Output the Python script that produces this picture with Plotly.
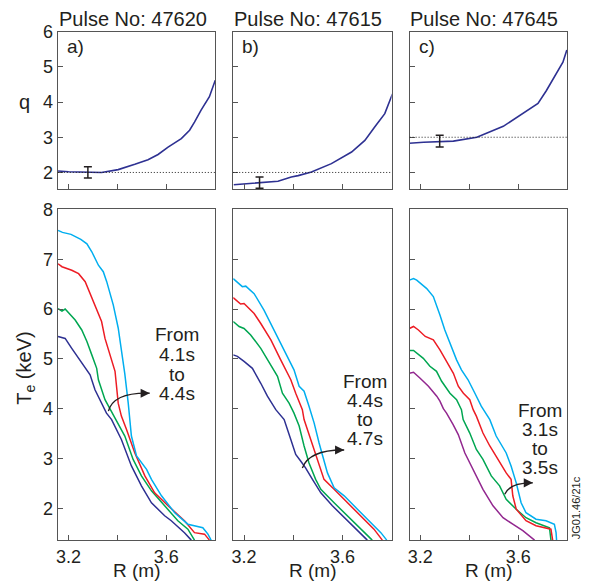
import plotly.graph_objects as go

# ---------------- data ----------------
pulses = ["47620", "47615", "47645"]
panel_tags = ["a)", "b)", "c)"]
time_from = ["4.1s", "4.4s", "3.1s"]
time_to = ["4.4s", "4.7s", "3.5s"]

# safety factor profiles q(R)
q_R = [
    [3.157, 3.20, 3.335, 3.403, 3.471, 3.525, 3.566, 3.607, 3.661, 3.695, 3.715, 3.742, 3.776, 3.80],
    [3.158, 3.27, 3.338, 3.392, 3.42, 3.474, 3.555, 3.637, 3.691, 3.731, 3.772, 3.803],
    [3.155, 3.213, 3.335, 3.431, 3.539, 3.62, 3.681, 3.715, 3.756, 3.783, 3.799],
]
q_val = [
    [2.04, 2.02, 2.00, 2.08, 2.23, 2.36, 2.51, 2.72, 2.96, 3.20, 3.43, 3.77, 4.15, 4.62],
    [1.65, 1.72, 1.75, 1.87, 1.91, 2.01, 2.25, 2.58, 2.91, 3.29, 3.67, 4.23],
    [2.83, 2.86, 2.89, 3.00, 3.31, 3.67, 3.96, 4.32, 4.80, 5.13, 5.48],
]
# error bar on q near the axis
qerr_R = [3.279, 3.263, 3.279]
qerr_val = [2.00, 1.71, 2.89]
qerr_size = [0.16, 0.16, 0.17]
# rational surface reference levels
q_ref = [2, 2, 3]

# electron temperature profiles Te(R), several time slices per pulse
te_colors = {
    "navy": "#2E3192",
    "purple": "#92278F",
    "green": "#00A651",
    "red": "#ED1C24",
    "cyan": "#00AEEF",
}

te_a = {
    "navy": (
        [3.157, 3.186, 3.213, 3.241, 3.268, 3.288, 3.308, 3.335, 3.355, 3.376, 3.416, 3.457, 3.498, 3.539, 3.593, 3.62, 3.674, 3.702],
        [5.45, 5.41, 5.21, 5.01, 4.81, 4.68, 4.38, 4.11, 3.91, 3.78, 3.38, 2.85, 2.45, 2.11, 1.85, 1.75, 1.51, 1.36],
    ),
    "green": (
        [3.157, 3.173, 3.186, 3.227, 3.254, 3.275, 3.295, 3.315, 3.322, 3.349, 3.39, 3.43, 3.464, 3.498, 3.539, 3.593, 3.647, 3.688, 3.715],
        [6.01, 5.96, 6.00, 5.78, 5.58, 5.35, 5.08, 4.81, 4.58, 4.18, 3.81, 3.45, 2.98, 2.65, 2.35, 2.05, 1.75, 1.58, 1.36],
    ),
    "red": (
        [3.157, 3.173, 3.213, 3.241, 3.268, 3.308, 3.335, 3.349, 3.369, 3.39, 3.403, 3.416, 3.437, 3.471, 3.512, 3.552, 3.607, 3.674, 3.715, 3.756, 3.776],
        [6.91, 6.85, 6.78, 6.71, 6.55, 6.08, 5.75, 5.41, 5.08, 4.75, 4.11, 3.85, 3.58, 3.11, 2.65, 2.31, 2.05, 1.75, 1.51, 1.48, 1.36],
    ),
    "cyan": (
        [3.157, 3.175, 3.21, 3.25, 3.275, 3.295, 3.322, 3.342, 3.356, 3.369, 3.383, 3.403, 3.416, 3.43, 3.444, 3.457, 3.478, 3.519, 3.539, 3.58, 3.634, 3.688, 3.749, 3.77, 3.783],
        [7.58, 7.54, 7.50, 7.40, 7.31, 7.15, 6.88, 6.75, 6.55, 6.31, 6.08, 5.62, 5.22, 4.70, 4.11, 3.45, 3.05, 2.78, 2.58, 2.25, 1.91, 1.68, 1.61, 1.48, 1.36],
    ),
}

te_b = {
    "navy": (
        [3.156, 3.173, 3.20, 3.234, 3.268, 3.295, 3.329, 3.363, 3.39, 3.41, 3.43, 3.45, 3.478, 3.512, 3.559, 3.613, 3.667, 3.701],
        [5.08, 5.05, 4.95, 4.81, 4.51, 4.25, 3.98, 3.78, 3.38, 3.08, 2.95, 2.81, 2.58, 2.31, 2.05, 1.78, 1.51, 1.36],
    ),
    "green": (
        [3.156, 3.18, 3.20, 3.227, 3.268, 3.295, 3.336, 3.356, 3.383, 3.403, 3.424, 3.444, 3.464, 3.491, 3.512, 3.566, 3.62, 3.674, 3.721],
        [5.75, 5.65, 5.61, 5.48, 5.21, 4.98, 4.65, 4.31, 4.11, 3.91, 3.65, 3.25, 2.91, 2.58, 2.38, 2.11, 1.85, 1.58, 1.36],
    ),
    "red": (
        [3.156, 3.173, 3.186, 3.20, 3.241, 3.268, 3.309, 3.349, 3.39, 3.41, 3.437, 3.444, 3.471, 3.491, 3.512, 3.525, 3.566, 3.62, 3.674, 3.728, 3.762],
        [6.23, 6.15, 6.10, 6.11, 5.91, 5.71, 5.38, 4.98, 4.58, 4.31, 3.98, 3.78, 3.38, 3.05, 2.78, 2.58, 2.38, 2.11, 1.85, 1.58, 1.36],
    ),
    "cyan": (
        [3.156, 3.18, 3.193, 3.207, 3.241, 3.281, 3.322, 3.363, 3.403, 3.424, 3.444, 3.464, 3.485, 3.505, 3.525, 3.539, 3.566, 3.607, 3.661, 3.715, 3.756, 3.78],
        [6.61, 6.51, 6.45, 6.46, 6.31, 5.98, 5.58, 5.18, 4.78, 4.45, 4.35, 4.05, 3.71, 3.31, 2.98, 2.71, 2.41, 2.25, 1.98, 1.71, 1.51, 1.36],
    ),
}

te_c = {
    "purple": (
        [3.155, 3.172, 3.199, 3.233, 3.267, 3.28, 3.294, 3.307, 3.334, 3.355, 3.382, 3.416, 3.456, 3.497, 3.538, 3.578, 3.619, 3.667],
        [4.71, 4.73, 4.61, 4.45, 4.25, 4.15, 4.00, 3.91, 3.68, 3.48, 3.11, 2.78, 2.38, 2.05, 1.81, 1.68, 1.55, 1.36],
    ),
    "green": (
        [3.155, 3.172, 3.212, 3.239, 3.266, 3.287, 3.321, 3.348, 3.368, 3.375, 3.402, 3.429, 3.456, 3.49, 3.524, 3.551, 3.592, 3.632, 3.673, 3.728, 3.734],
        [5.17, 5.17, 5.01, 4.85, 4.75, 4.55, 4.31, 4.18, 3.98, 3.78, 3.51, 3.18, 2.98, 2.65, 2.45, 2.18, 1.98, 1.81, 1.71, 1.61, 1.36],
    ),
    "red": (
        [3.155, 3.172, 3.192, 3.22, 3.253, 3.28, 3.307, 3.335, 3.355, 3.376, 3.402, 3.416, 3.429, 3.456, 3.484, 3.524, 3.551, 3.571, 3.578, 3.592, 3.632, 3.673, 3.734, 3.741],
        [5.61, 5.65, 5.58, 5.45, 5.38, 5.18, 4.95, 4.71, 4.45, 4.31, 4.18, 3.98, 3.85, 3.51, 3.25, 2.91, 2.71, 2.58, 2.25, 1.98, 1.75, 1.65, 1.58, 1.36],
    ),
    "cyan": (
        [3.155, 3.172, 3.185, 3.226, 3.253, 3.266, 3.28, 3.30, 3.321, 3.348, 3.368, 3.395, 3.423, 3.449, 3.484, 3.51, 3.551, 3.571, 3.592, 3.612, 3.632, 3.673, 3.714, 3.748, 3.755, 3.757],
        [6.58, 6.61, 6.58, 6.41, 6.25, 6.05, 5.88, 5.58, 5.31, 4.98, 4.78, 4.58, 4.31, 4.05, 3.78, 3.45, 3.11, 2.85, 2.51, 2.11, 1.91, 1.78, 1.75, 1.68, 1.51, 1.36],
    ),
}
te_sets = [te_a, te_b, te_c]

# curved "time increasing" arrows: start, control, tip (R, Te)
arrows = [
    [(3.363, 3.95), (3.384, 4.33), (3.532, 4.31)],
    [(3.437, 2.81), (3.466, 3.18), (3.607, 3.17)],
    [(3.545, 2.28), (3.566, 2.52), (3.66, 2.51)],
]
# annotation text anchor (R) and line centres (Te)
note_R = [3.643, 3.693, 3.69]
note_Te = [
    [5.49, 5.09, 4.69, 4.31],
    [4.55, 4.17, 3.79, 3.41],
    [3.96, 3.58, 3.20, 2.82],
]

R_range = [3.156, 3.80]
q_range = [1.516, 6.0]
te_range = [1.36, 8.0]
R_ticks = [3.2, 3.4, 3.6]
R_ticktext = ["3.2", "", "3.6"]
q_ticks = [2, 3, 4, 5, 6]
te_ticks = [2, 3, 4, 5, 6, 7, 8]

# ---------------- layout geometry (pixels from top-left) ----------------
W, H = 590, 588
FONT = "Liberation Sans, Arial, Helvetica, sans-serif"
INK = "#231F20"
AXC = "#555555"

col_px = [(56, 214), (232, 391), (409, 567)]
top_px = (22.0, 182.6)
bot_px = (202.9, 539.3)
title_y = 8.8
tag_y = 37.3
q_label_y = 93.2
te_label_y = 364.0
r_label_y = 569.8
code_y = 506.8


def xdom(c):
    return [c[0] / W, c[1] / W]


def ydom(r):
    return [1 - r[1] / H, 1 - r[0] / H]


def yp(px):
    return 1 - px / H


fig = go.Figure()
layout = dict(
    width=W,
    height=H,
    margin=dict(l=0, r=0, t=0, b=0),
    paper_bgcolor="white",
    plot_bgcolor="white",
    showlegend=False,
    font=dict(family=FONT, size=19, color=INK),
)

shapes = []
annotations = []

axis_common = dict(
    showline=True,
    linecolor=AXC,
    linewidth=1.3,
    mirror=True,
    ticks="inside",
    ticklen=5,
    tickwidth=1.2,
    tickcolor=AXC,
    showgrid=False,
    zeroline=False,
    tickfont=dict(family=FONT, size=18, color=INK),
)

for i in range(3):
    n_top = i + 1
    n_bot = i + 4
    xs_top = "" if n_top == 1 else str(n_top)
    xs_bot = str(n_bot)

    layout["xaxis" + xs_top] = dict(
        axis_common, domain=xdom(col_px[i]), range=R_range, anchor="y" + xs_top,
        tickvals=R_ticks, showticklabels=False,
    )
    layout["yaxis" + xs_top] = dict(
        axis_common, domain=ydom(top_px), range=q_range, anchor="x" + xs_top,
        tickvals=q_ticks, showticklabels=(i == 0),
    )
    layout["xaxis" + xs_bot] = dict(
        axis_common, domain=xdom(col_px[i]), range=R_range, anchor="y" + xs_bot,
        tickvals=R_ticks, ticktext=R_ticktext,
    )
    layout["yaxis" + xs_bot] = dict(
        axis_common, domain=ydom(bot_px), range=te_range, anchor="x" + xs_bot,
        tickvals=te_ticks, showticklabels=(i == 0),
    )

    xr_t, yr_t = "x" + xs_top, "y" + xs_top
    xr_b, yr_b = "x" + xs_bot, "y" + xs_bot

    # q reference level (fine dotted line)
    shapes.append(dict(
        type="line", xref=xr_t + " domain", yref=yr_t, x0=0, x1=1,
        y0=q_ref[i], y1=q_ref[i], line=dict(color="#222222", width=1, dash="1px,2px"),
    ))

    # q profile
    fig.add_trace(go.Scatter(
        x=q_R[i], y=q_val[i], mode="lines", xaxis=xr_t, yaxis=yr_t,
        line=dict(color=te_colors["navy"], width=1.6), hoverinfo="skip",
    ))
    # error bar
    fig.add_trace(go.Scatter(
        x=[qerr_R[i]], y=[qerr_val[i]], mode="markers", xaxis=xr_t, yaxis=yr_t,
        marker=dict(size=1, color=INK),
        error_y=dict(type="data", array=[qerr_size[i]], visible=True,
                     color=INK, thickness=1.5, width=4),
        hoverinfo="skip",
    ))

    # Te profiles
    for name, (rr, tt) in te_sets[i].items():
        fig.add_trace(go.Scatter(
            x=rr, y=tt, mode="lines", xaxis=xr_b, yaxis=yr_b,
            line=dict(color=te_colors[name], width=1.5), hoverinfo="skip",
        ))

    # pulse title
    annotations.append(dict(
        text="Pulse No: " + pulses[i], xref="paper", yref="paper",
        x=col_px[i][0] / W - 0.002, y=yp(title_y), xanchor="left", yanchor="middle",
        showarrow=False, font=dict(size=20, family=FONT, color=INK),
    ))
    # panel tag
    annotations.append(dict(
        text=panel_tags[i], xref="paper", yref="paper",
        x=(col_px[i][0] + 7) / W, y=yp(tag_y), xanchor="left", yanchor="middle",
        showarrow=False, font=dict(size=19, family=FONT, color=INK),
    ))
    # R axis label
    annotations.append(dict(
        text="R (m)", xref="paper", yref="paper",
        x=(col_px[i][0] + col_px[i][1]) / 2 / W, y=yp(r_label_y),
        xanchor="center", yanchor="middle", showarrow=False,
        font=dict(size=19, family=FONT, color=INK),
    ))

    # "From ... to ..." note
    lines = ["From", time_from[i], "to", time_to[i]]
    for txt, te in zip(lines, note_Te[i]):
        annotations.append(dict(
            text=txt, xref=xr_b, yref=yr_b, x=note_R[i], y=te,
            xanchor="center", yanchor="middle", showarrow=False,
            font=dict(size=19, family=FONT, color=INK),
        ))

    # curved arrow body + head
    (x0, y0), (cx, cy), (x1, y1) = arrows[i]
    shapes.append(dict(
        type="path", xref=xr_b, yref=yr_b,
        path=f"M {x0},{y0} Q {cx},{cy} {x1},{y1}",
        line=dict(color=INK, width=1.3),
    ))
    annotations.append(dict(
        text="", xref=xr_b, yref=yr_b, x=x1, y=y1, ax=-7, ay=0,
        showarrow=True, arrowhead=2, arrowsize=1.4, arrowwidth=1.3,
        arrowcolor=INK,
    ))

# y axis titles
annotations.append(dict(
    text="q", xref="paper", yref="paper", x=23 / W, y=yp(q_label_y),
    xanchor="center", yanchor="middle", showarrow=False,
    font=dict(size=20, family=FONT, color=INK),
))
annotations.append(dict(
    text="T<sub>e</sub> (keV)", xref="paper", yref="paper", x=24 / W, y=yp(te_label_y),
    xanchor="center", yanchor="middle", showarrow=False, textangle=-90,
    font=dict(size=20, family=FONT, color=INK),
))
# figure reference code
annotations.append(dict(
    text="JG01.46/21c", xref="paper", yref="paper", x=576 / W, y=yp(code_y),
    xanchor="center", yanchor="middle", showarrow=False, textangle=-90,
    font=dict(size=11, family=FONT, color=INK),
))

layout["shapes"] = shapes
layout["annotations"] = annotations
fig.update_layout(**layout)

fig.write_html("out.html")
